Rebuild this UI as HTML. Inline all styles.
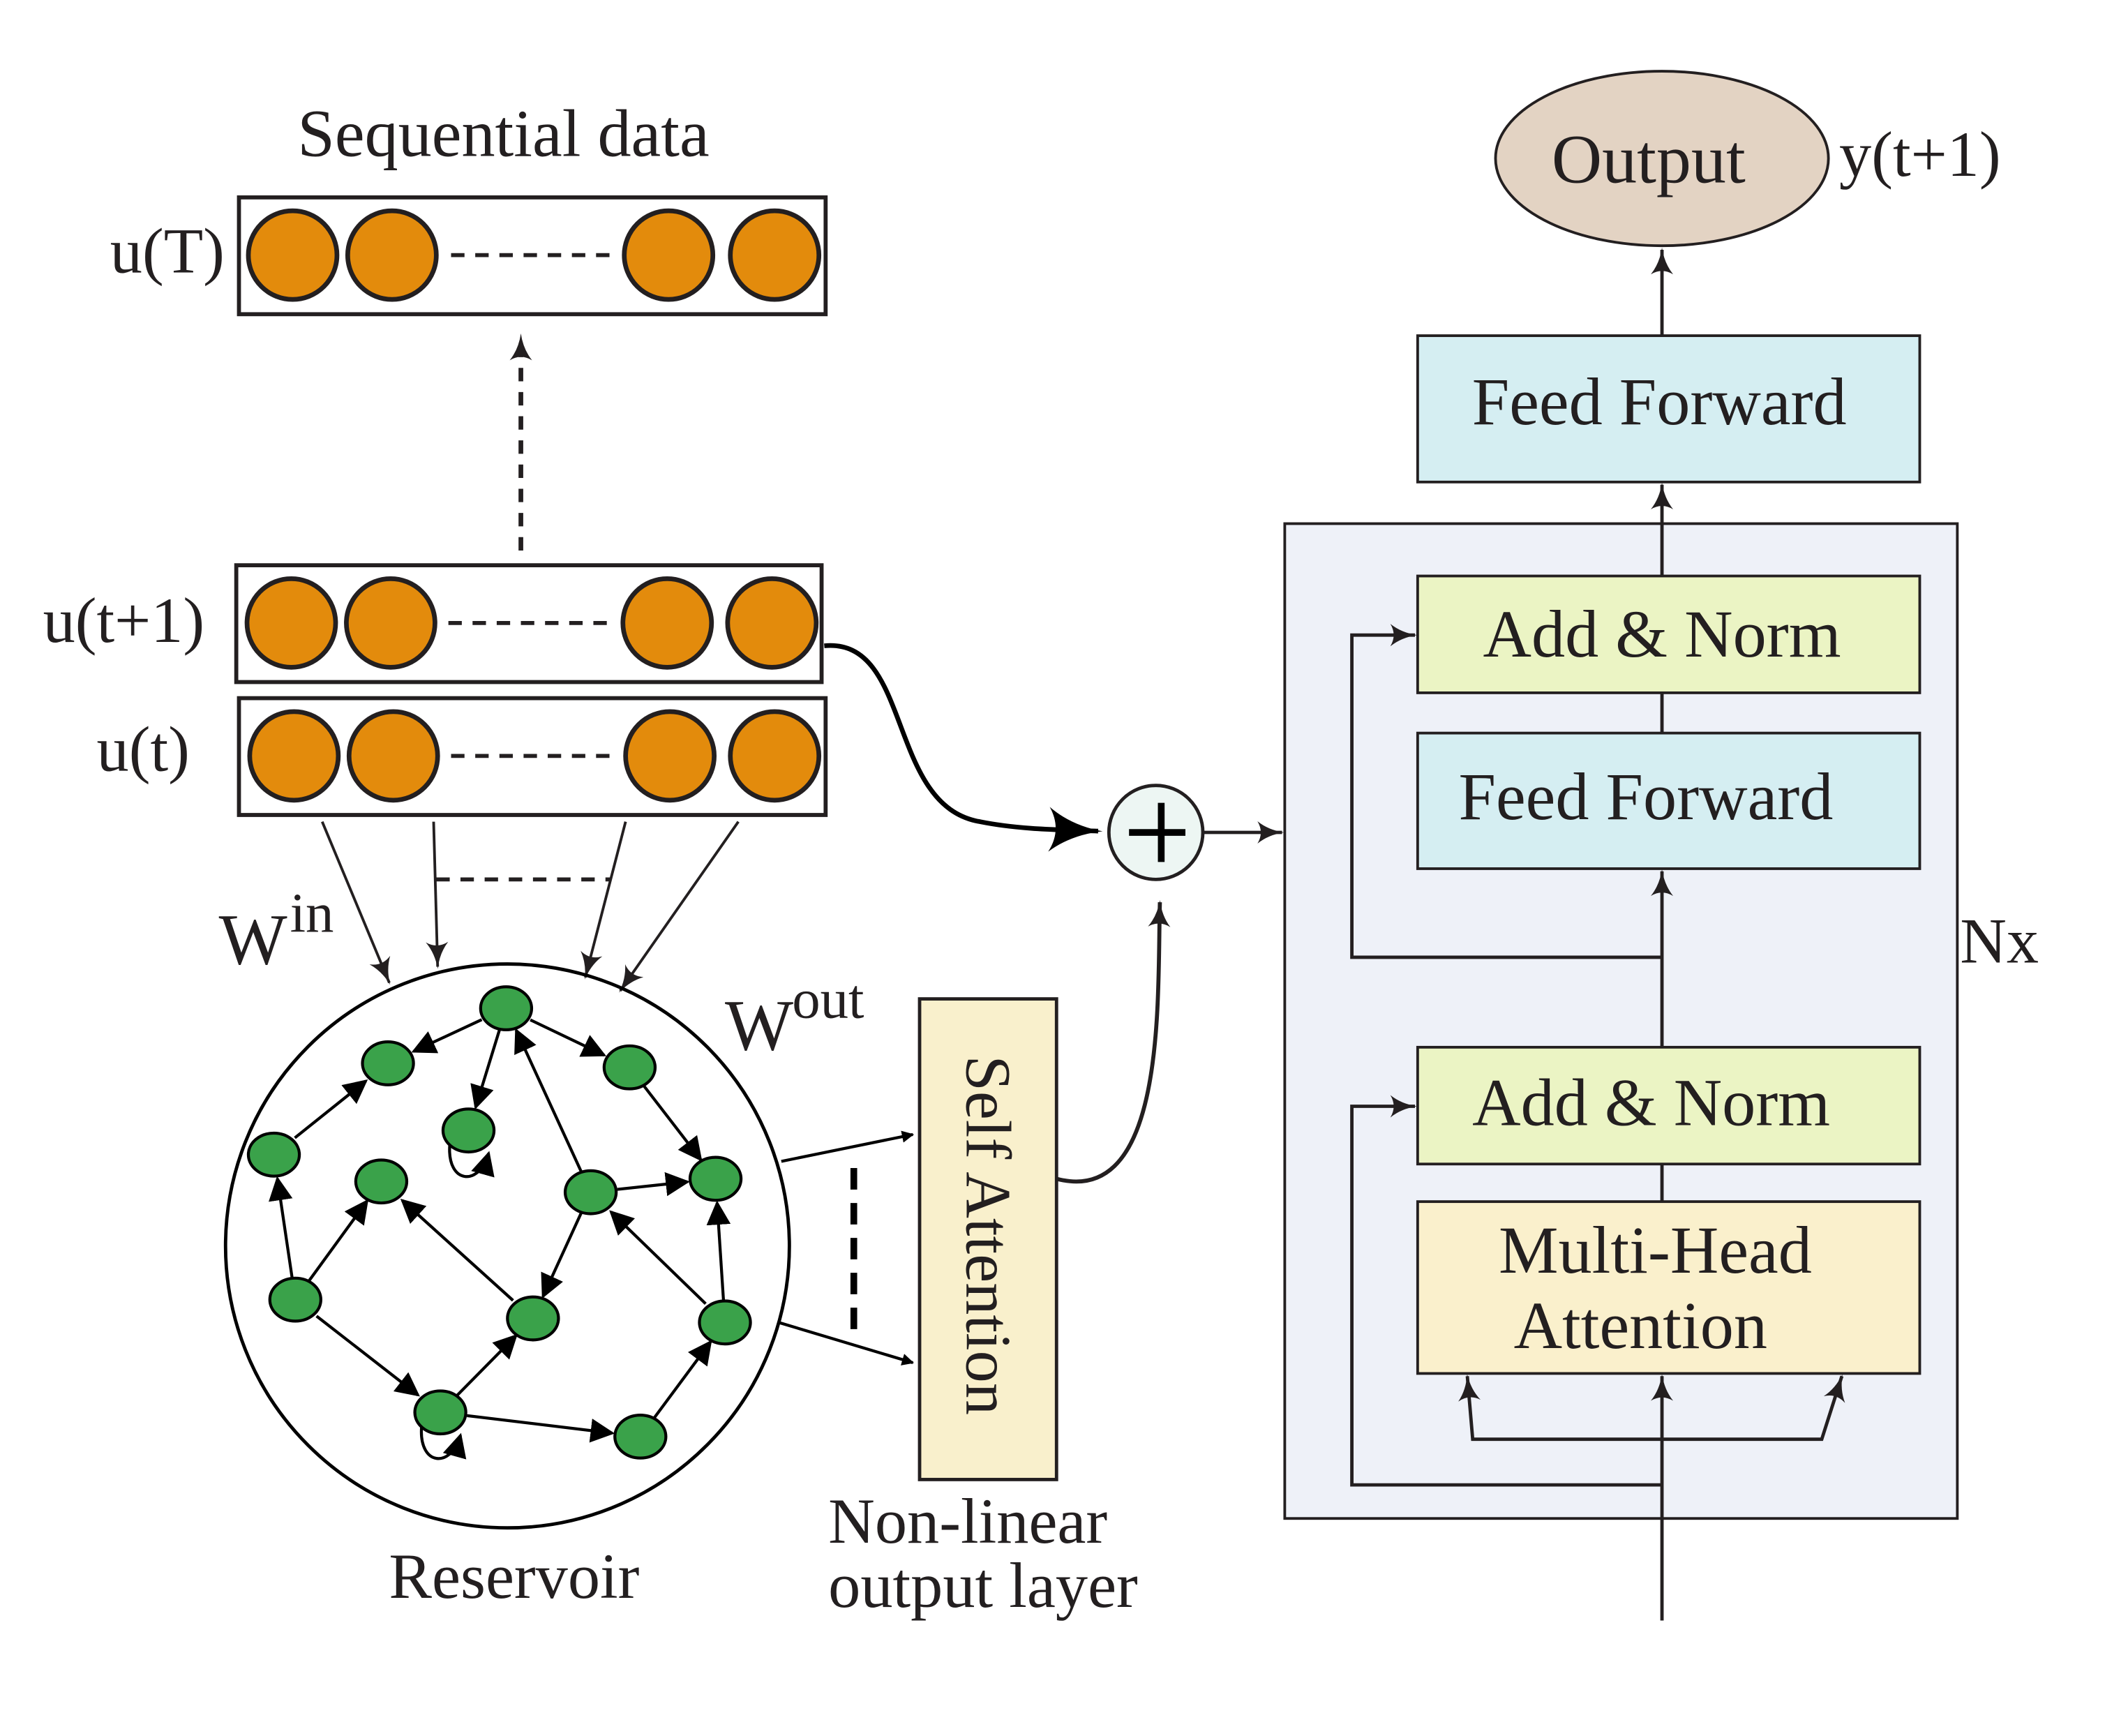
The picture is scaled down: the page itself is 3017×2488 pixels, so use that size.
<!DOCTYPE html>
<html><head><meta charset="utf-8"><style>
html,body{margin:0;padding:0;background:#fff}
svg{display:block}
text{font-family:"Liberation Serif",serif;fill:#231f20}
</style></head><body>
<svg width="3017" height="2488" viewBox="0 0 1568 1293" xmlns="http://www.w3.org/2000/svg">
<defs>
<marker id="a" viewBox="0 0 10 10" refX="9" refY="5" markerWidth="9" markerHeight="9" markerUnits="userSpaceOnUse" orient="auto"><path d="M0,0 L10,5 L0,10 z" fill="#000"/></marker>
<marker id="g" viewBox="0 0 10 10" refX="9" refY="5" markerWidth="18" markerHeight="18" markerUnits="userSpaceOnUse" orient="auto"><path d="M0,0 L10,5 L0,10 z" fill="#000"/></marker>
<marker id="b" viewBox="0 0 12 10" refX="11" refY="5" markerWidth="20" markerHeight="17" markerUnits="userSpaceOnUse" orient="auto"><path d="M0,0 Q5,4 12,5 Q5,6 0,10 Q3,5 0,0 z" fill="#231f20"/></marker>
<marker id="c" viewBox="0 0 12 10" refX="11" refY="5" markerWidth="40" markerHeight="34" markerUnits="userSpaceOnUse" orient="auto"><path d="M0,0 Q5,4 12,5 Q5,6 0,10 Q3,5 0,0 z" fill="#000"/></marker>
</defs>

<text x="375" y="116" font-size="50" text-anchor="middle">Sequential data</text>
<g stroke="#231f20" stroke-width="3" fill="none">
<rect x="178" y="147" width="437" height="87"/>
<rect x="176" y="421" width="436" height="87"/>
<rect x="178" y="520" width="437" height="87"/>
</g>
<g fill="#E38B0C" stroke="#231f20" stroke-width="3.5">
<circle cx="218" cy="190" r="33"/><circle cx="292" cy="190" r="33"/><circle cx="498" cy="190" r="33"/><circle cx="577" cy="190" r="33"/>
<circle cx="217" cy="464" r="33"/><circle cx="291" cy="464" r="33"/><circle cx="497" cy="464" r="33"/><circle cx="575" cy="464" r="33"/>
<circle cx="219" cy="563" r="33"/><circle cx="293" cy="563" r="33"/><circle cx="499" cy="563" r="33"/><circle cx="577" cy="563" r="33"/>
</g>
<g stroke="#231f20" stroke-width="3" stroke-dasharray="10,8">
<line x1="336" y1="190" x2="458" y2="190"/>
<line x1="334" y1="464" x2="456" y2="464"/>
<line x1="336" y1="563" x2="458" y2="563"/>
<line x1="325" y1="655" x2="455" y2="655"/>
<line x1="388" y1="410" x2="388" y2="250" stroke-width="3.5" marker-end="url(#b)"/>
</g>
<text x="82" y="203" font-size="48">u(T)</text>
<text x="32" y="478" font-size="48">u(t+1)</text>
<text x="72" y="574" font-size="48">u(t)</text>

<g stroke="#231f20" stroke-width="2" fill="none" marker-end="url(#b)">
<line x1="240" y1="612" x2="290" y2="732"/>
<line x1="323" y1="612" x2="326" y2="720"/>
<line x1="466" y1="612" x2="436" y2="728"/>
<line x1="550" y1="612" x2="462" y2="738"/>
</g>
<text x="163" y="718" font-size="54">W</text><text x="216" y="694" font-size="42">in</text>

<circle cx="378" cy="928" r="210" fill="none" stroke="#000" stroke-width="2.5"/>
<g id="edges" stroke="#000" stroke-width="2.2" fill="none"></g>
<g id="nodes" fill="#3AA24A" stroke="#000" stroke-width="2.2"></g>
<text x="383" y="1190" font-size="48" text-anchor="middle">Reservoir</text>

<text x="540" y="782" font-size="54">W</text><text x="590" y="758" font-size="42">out</text>
<g stroke="#000" stroke-width="2.2" marker-end="url(#a)">
<line x1="582" y1="865" x2="680" y2="845"/>
<line x1="580" y1="985" x2="680" y2="1015"/>
</g>
<line x1="636" y1="870" x2="636" y2="1000" stroke="#000" stroke-width="5" stroke-dasharray="16,10"/>
<rect x="685" y="744" width="102" height="358" fill="#F9F0CC" stroke="#231f20" stroke-width="2.5"/>
<text transform="translate(720,920) rotate(90)" font-size="48" text-anchor="middle">Self Attention</text>
<text x="617" y="1149" font-size="48">Non-linear</text>
<text x="617" y="1197" font-size="48">output layer</text>

<path d="M787,878 C870,900 862,740 864,672" stroke="#231f20" stroke-width="3" fill="none" marker-end="url(#b)"/>
<path d="M614,481 C680,475 660,600 730,612 C760,618 790,618 818,619" stroke="#000" stroke-width="3.5" fill="none" marker-end="url(#c)"/>
<circle cx="861" cy="620" r="35" fill="#EDF6F3" stroke="#231f20" stroke-width="2.5"/>
<path d="M841,620 H883 M865,598 V642" stroke="#000" stroke-width="5"/>
<line x1="897" y1="620" x2="955" y2="620" stroke="#231f20" stroke-width="2.5" marker-end="url(#b)"/>

<rect x="957" y="390" width="501" height="741" fill="#EEF1F8" stroke="#231f20" stroke-width="2"/>
<text x="1460" y="717" font-size="48">Nx</text>
<ellipse cx="1238" cy="118" rx="124" ry="65" fill="#E3D3C3" stroke="#231f20" stroke-width="2"/>
<text x="1228" y="136" font-size="52" text-anchor="middle">Output</text>
<text x="1370" y="131" font-size="48">y(t+1)</text>

<g stroke="#231f20" stroke-width="2.5" fill="none">
<line x1="1238" y1="250" x2="1238" y2="186" marker-end="url(#b)"/>
<line x1="1238" y1="429" x2="1238" y2="361" marker-end="url(#b)"/>
<line x1="1238" y1="546" x2="1238" y2="516"/>
<line x1="1238" y1="780" x2="1238" y2="649" marker-end="url(#b)"/>
<line x1="1238" y1="895" x2="1238" y2="867"/>
<line x1="1238" y1="1207" x2="1238" y2="1025" marker-end="url(#b)"/>
<polyline points="1238,713 1007,713 1007,473 1054,473" marker-end="url(#b)"/>
<polyline points="1238,1106 1007,1106 1007,824 1054,824" marker-end="url(#b)"/>
<polyline points="1238,1072 1097,1072 1093,1025" marker-end="url(#b)"/>
<polyline points="1238,1072 1357,1072 1372,1025" marker-end="url(#b)"/>
</g>
<g stroke="#231f20" stroke-width="2">
<rect x="1056" y="250" width="374" height="109" fill="#D5EEF2"/>
<rect x="1056" y="429" width="374" height="87" fill="#EBF4C4"/>
<rect x="1056" y="546" width="374" height="101" fill="#D5EEF2"/>
<rect x="1056" y="780" width="374" height="87" fill="#EBF4C4"/>
<rect x="1056" y="895" width="374" height="128" fill="#FAF0CC"/>
</g>
<g font-size="50">
<text x="1236" y="316" text-anchor="middle">Feed Forward</text>
<text x="1238" y="489" text-anchor="middle">Add &amp; Norm</text>
<text x="1226" y="610" text-anchor="middle">Feed Forward</text>
<text x="1230" y="838" text-anchor="middle">Add &amp; Norm</text>
<text x="1233" y="948" text-anchor="middle">Multi-Head</text>
<text x="1222" y="1004" text-anchor="middle">Attention</text>
</g>
<script>
var N={A:[377,751],B:[289,792],C:[204,860],D:[349,842],E:[469,795],F:[284,880],G:[440,888],H:[533,878],I:[220,968],J:[397,982],K:[540,985],L:[328,1052],M:[477,1070]};
var E=[["A","B"],["A","D"],["A","E"],["E","H"],["C","B"],["I","C"],["I","F"],["G","A"],["G","H"],["G","J"],["J","F"],["K","H"],["K","G"],["I","L"],["L","J"],["L","M"],["M","K"]];
var ns="http://www.w3.org/2000/svg",eg=document.getElementById("edges"),ng=document.getElementById("nodes");
E.forEach(function(e){var a=N[e[0]],b=N[e[1]],dx=b[0]-a[0],dy=b[1]-a[1],d=Math.hypot(dx,dy),ux=dx/d,uy=dy/d;
var s=Math.abs(ux)>Math.abs(uy)?20:17;var l=document.createElementNS(ns,"line");
l.setAttribute("x1",a[0]+ux*s);l.setAttribute("y1",a[1]+uy*s);l.setAttribute("x2",b[0]-ux*(s+1));l.setAttribute("y2",b[1]-uy*(s+1));
l.setAttribute("marker-end","url(#g)");eg.appendChild(l);});
["D","L"].forEach(function(k){var p=N[k];var pa=document.createElementNS(ns,"path");
pa.setAttribute("d","M"+(p[0]-14)+","+(p[1]+11)+" C"+(p[0]-16)+","+(p[1]+40)+" "+(p[0]+8)+","+(p[1]+42)+" "+(p[0]+15)+","+(p[1]+17));
pa.setAttribute("marker-end","url(#g)");eg.appendChild(pa);});
for(var k in N){var c=document.createElementNS(ns,"ellipse");c.setAttribute("cx",N[k][0]);c.setAttribute("cy",N[k][1]);c.setAttribute("rx",19);c.setAttribute("ry",16);ng.appendChild(c);}
</script>
</svg>
</body></html>
